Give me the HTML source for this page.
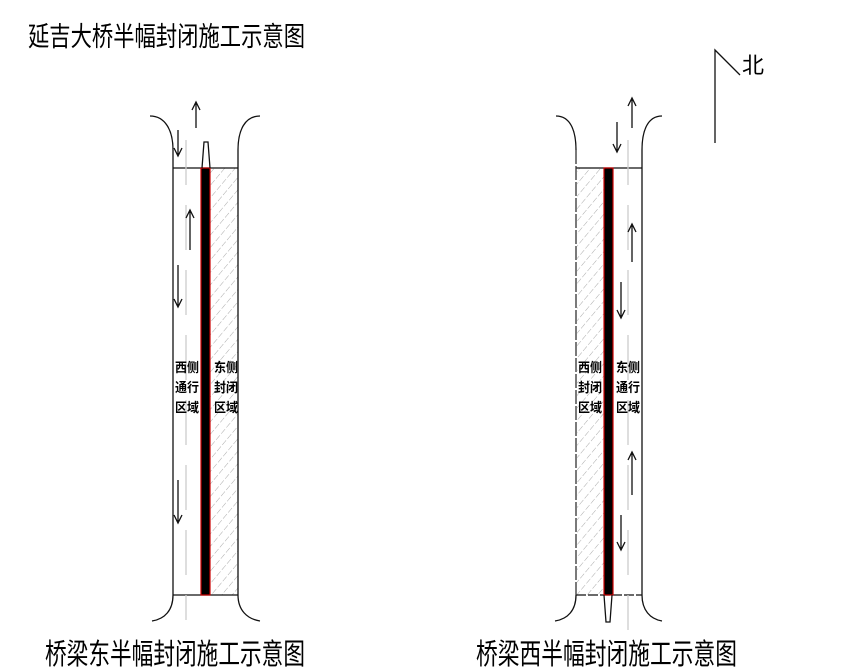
<!DOCTYPE html>
<html><head><meta charset="utf-8"><style>
html,body{margin:0;padding:0;background:#fff;}
svg{display:block;}
text{font-family:"Liberation Sans","WenQuanYi Zen Hei","Noto Sans CJK SC",sans-serif;}
</style></head><body>
<svg width="863" height="670" viewBox="0 0 863 670" xmlns="http://www.w3.org/2000/svg">
<defs>
<pattern id="h" width="8" height="8" patternUnits="userSpaceOnUse" patternTransform="rotate(40)">
<line x1="0" y1="0" x2="0" y2="8" stroke="#aaa" stroke-width="1" stroke-dasharray="6 2"/>
</pattern>
</defs>
<g stroke-width="1.3" fill="none" stroke="#111">
<rect x="210" y="168" width="28" height="427" fill="url(#h)" stroke="none"/>
<line x1="173" y1="168" x2="238" y2="168"/>
<line x1="173" y1="595" x2="238" y2="595"/>
<line x1="173" y1="150" x2="173" y2="595"/>
<line x1="238" y1="150" x2="238" y2="595"/>
<path d="M150,116 C165,116 173,130 173,150"/>
<path d="M260,116 C245,116 238,130 238,150"/>
<path d="M152,621 C165,619 173,610 173,595"/>
<path d="M260,621 C247,619 238,610 238,595"/>
<rect x="201" y="168" width="9" height="427" fill="#000" stroke="#c00" stroke-width="1.2"/>
<path d="M202,168 L204,142 L208,142 L210,168"/>
<line x1="186" y1="140" x2="186" y2="620" stroke="#ccc" stroke-dasharray="45 20"/>
<path d="M196,128 V102 M192,110 L196,102 L200,110"/>
<path d="M178,130 V156 M174,148 L178,156 L182,148"/>
<path d="M190,250 V210 M186,218 L190,210 L194,218"/>
<path d="M178,265 V307 M174,299 L178,307 L182,299"/>
<path d="M178,480 V523 M174,515 L178,523 L182,515"/>
<rect x="577" y="168" width="27" height="427" fill="url(#h)" stroke="none"/>
<line x1="576" y1="168" x2="642" y2="168"/>
<line x1="576" y1="595" x2="642" y2="595" stroke-dasharray="10 2"/>
<line x1="576" y1="150" x2="576" y2="595" stroke="#333" stroke-dasharray="14 2"/>
<line x1="642" y1="150" x2="642" y2="595"/>
<path d="M556,116 C570,116 576,130 576,150"/>
<path d="M662,116 C648,116 642,130 642,150"/>
<path d="M555,621 C568,619 576,610 576,595"/>
<path d="M662,621 C650,619 642,610 642,595"/>
<rect x="604" y="168" width="9" height="427" fill="#000" stroke="#c00" stroke-width="1.2"/>
<path d="M604,595 L606,622 L610,622 L612,595"/>
<line x1="628" y1="140" x2="628" y2="630" stroke="#ccc" stroke-dasharray="45 20"/>
<path d="M632,128 V98 M628,106 L632,98 L636,106"/>
<path d="M617,122 V152 M613,144 L617,152 L621,144"/>
<path d="M632,262 V224 M628,232 L632,224 L636,232"/>
<path d="M621,282 V318 M617,310 L621,318 L625,310"/>
<path d="M632,495 V452 M628,460 L632,452 L636,460"/>
<path d="M621,515 V550 M617,542 L621,550 L625,542"/>
<path d="M715,143 V50 L740,75"/>
</g>
<g font-size="13" font-weight="bold" fill="#000">
<text x="175" y="372" textLength="24" lengthAdjust="spacingAndGlyphs">西侧</text><text x="175" y="392" textLength="24" lengthAdjust="spacingAndGlyphs">通行</text><text x="175" y="412" textLength="24" lengthAdjust="spacingAndGlyphs">区域</text>
<text x="214" y="372" textLength="24" lengthAdjust="spacingAndGlyphs">东侧</text><text x="214" y="392" textLength="24" lengthAdjust="spacingAndGlyphs">封闭</text><text x="214" y="412" textLength="24" lengthAdjust="spacingAndGlyphs">区域</text>
<text x="578" y="372" textLength="24" lengthAdjust="spacingAndGlyphs">西侧</text><text x="578" y="392" textLength="24" lengthAdjust="spacingAndGlyphs">封闭</text><text x="578" y="412" textLength="24" lengthAdjust="spacingAndGlyphs">区域</text>
<text x="616" y="372" textLength="24" lengthAdjust="spacingAndGlyphs">东侧</text><text x="616" y="392" textLength="24" lengthAdjust="spacingAndGlyphs">通行</text><text x="616" y="412" textLength="24" lengthAdjust="spacingAndGlyphs">区域</text>
</g>
<text x="742" y="73" font-size="22" fill="#000">北</text>
<text x="28" y="46" font-size="27" fill="#000" textLength="277" lengthAdjust="spacingAndGlyphs">延吉大桥半幅封闭施工示意图</text>
<text x="45" y="664" font-size="29" fill="#000" textLength="260" lengthAdjust="spacingAndGlyphs">桥梁东半幅封闭施工示意图</text>
<text x="476" y="664" font-size="29" fill="#000" textLength="261" lengthAdjust="spacingAndGlyphs">桥梁西半幅封闭施工示意图</text>
</svg>
</body></html>
